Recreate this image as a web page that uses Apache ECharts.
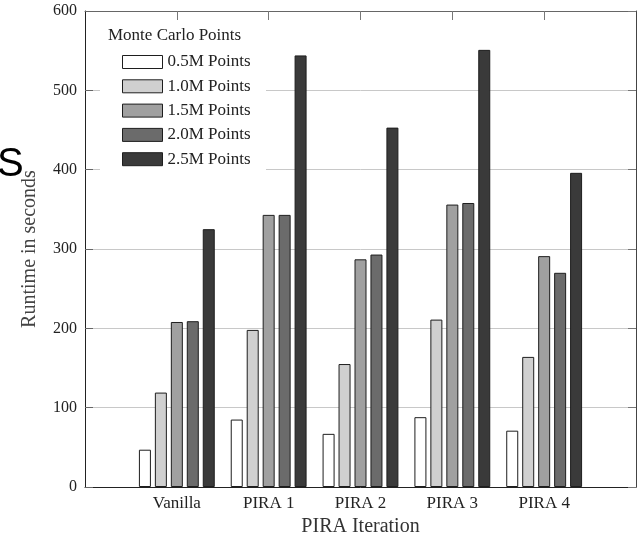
<!DOCTYPE html>
<html>
<head>
<meta charset="utf-8">
<script src="https://cdn.jsdelivr.net/npm/echarts@6/dist/echarts.min.js"></script>
<style>html,body{margin:0;padding:0;background:#fff}#c{width:637px;height:537px}</style>
</head>
<body>
<div id="c"></div>
<script>
var categories = ['Vanilla', 'PIRA 1', 'PIRA 2', 'PIRA 3', 'PIRA 4'];
var seriesNames = ['0.5M Points', '1.0M Points', '1.5M Points', '2.0M Points', '2.5M Points'];
var pts05 = [47, 85, 67, 88, 71];
var pts10 = [119, 198, 155, 211, 164];
var pts15 = [208, 343, 287, 356, 291];
var pts20 = [209, 343, 293, 358, 270];
var pts25 = [325, 544, 453, 551, 396];
var yTicks = [0, 100, 200, 300, 400, 500, 600];

var colors = ['#ffffff', '#d0d0d0', '#a0a0a0', '#6b6b6b', '#3a3a3a'];
var allVals = [pts05, pts10, pts15, pts20, pts25];
var axisCats = [''].concat(categories).concat(['']);
var serif = "'Liberation Serif', 'DejaVu Serif', serif";
var innerTick = function (idx) { return idx > 0 && idx < axisCats.length - 1; };

var series = allVals.map(function (vals, i) {
  return {
    name: seriesNames[i],
    type: 'bar',
    barWidth: 12,
    barGap: '33%',
    data: ['-'].concat(vals).concat(['-']),
    itemStyle: { color: colors[i], borderColor: '#1e1e1e', borderWidth: 1 },
    emphasis: { disabled: true },
    animation: false
  };
});

var chart = echarts.init(document.getElementById('c'), null, { renderer: 'canvas' });
chart.setOption({
  animation: false,
  backgroundColor: '#ffffff',
  grid: { left: 85, right: 1, top: 11, bottom: 50, containLabel: false, outerBoundsMode: 'none' },
  title: {
    text: 'Monte Carlo Points',
    left: 108, top: 27, padding: 0,
    textStyle: { fontFamily: serif, fontSize: 17, fontWeight: 'normal', color: '#222' }
  },
  legend: {
    data: seriesNames.map(function (n) { return { name: n, icon: 'rect' }; }),
    orient: 'vertical',
    left: 122, top: 53, padding: 0,
    itemWidth: 40, itemHeight: 13, itemGap: 6.3,
    itemStyle: { borderColor: '#1e1e1e', borderWidth: 1 },
    textStyle: { fontFamily: serif, fontSize: 17, color: '#222', lineHeight: 18 },
    selectedMode: false
  },
  graphic: [
    { type: 'rect', z: 1, shape: { x: 100, y: 20, width: 166, height: 156 }, style: { fill: '#ffffff' } },
    { type: 'text', z: 10, left: -3, top: 145, style: { text: 'S', fontFamily: "'Liberation Sans', Arial, sans-serif", fontSize: 40, fill: '#000' } }
  ],
  xAxis: [
    {
      type: 'category', data: axisCats, boundaryGap: false, position: 'bottom',
      name: 'PIRA Iteration', nameLocation: 'middle', nameGap: 30,
      nameTextStyle: { fontFamily: serif, fontSize: 20, color: '#333' },
      axisLine: { onZero: false, lineStyle: { color: '#222', width: 1 } },
      axisTick: { show: false },
      axisLabel: { fontFamily: serif, fontSize: 17, color: '#222', margin: 8 },
      splitLine: { show: false }
    },
    {
      type: 'category', data: axisCats, boundaryGap: false, position: 'top',
      axisLine: { onZero: false, lineStyle: { color: '#666', width: 1 } },
      axisTick: { inside: true, length: 9, interval: innerTick, lineStyle: { color: '#777' } },
      axisLabel: { show: false },
      splitLine: { show: false }
    }
  ],
  yAxis: [
    {
      type: 'value', min: 0, max: 600, interval: 100, position: 'left',
      name: 'Runtime in seconds', nameLocation: 'middle', nameGap: 45,
      nameTextStyle: { fontFamily: serif, fontSize: 20, color: '#444' },
      axisLine: { show: true, onZero: false, lineStyle: { color: '#222', width: 1 } },
      axisTick: { show: true, inside: true, length: 8, lineStyle: { color: '#666' } },
      axisLabel: { fontFamily: serif, fontSize: 16, color: '#222', margin: 8,
        formatter: function (v) { return yTicks.indexOf(v) >= 0 ? String(v) : ''; } },
      splitLine: { show: true, lineStyle: { color: '#c8c8c8', width: 1 } }
    },
    {
      type: 'value', min: 0, max: 600, interval: 100, position: 'right',
      axisLine: { show: true, onZero: false, lineStyle: { color: '#444', width: 1 } },
      axisTick: { show: true, inside: true, length: 8, lineStyle: { color: '#777' } },
      axisLabel: { show: false },
      splitLine: { show: false }
    }
  ],
  series: series
});
</script>
</body>
</html>
